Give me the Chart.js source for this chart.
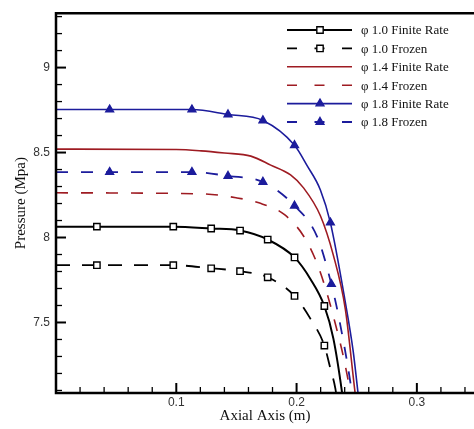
<!DOCTYPE html>
<html>
<head>
<meta charset="utf-8">
<script src="https://cdn.jsdelivr.net/npm/chart.js@4.4.0/dist/chart.umd.min.js"></script>
<style>
html, body { margin: 0; padding: 0; background: #fff; }
#wrap { width: 474px; height: 429px; }
</style>
</head>
<body>
<div id="wrap"><canvas id="chart" width="474" height="429"></canvas></div>
<script>
// axial position (m) and pressure (MPa)
const finite10X = [0, 0.034, 0.0975, 0.129, 0.153, 0.176, 0.1983, 0.2116, 0.2231, 0.2306, 0.238, 0.2395];
const finite10P = [8.064, 8.064, 8.064, 8.053, 8.041, 7.988, 7.883, 7.755, 7.597, 7.405, 7.078, 6.99];
const finite10Marks = [1, 2, 3, 4, 5, 6, 8];

const frozen10X = [0, 0.034, 0.0975, 0.129, 0.153, 0.176, 0.1983, 0.2116, 0.2231, 0.2281, 0.2322, 0.2345];
const frozen10P = [7.837, 7.837, 7.837, 7.819, 7.802, 7.766, 7.656, 7.521, 7.364, 7.229, 7.113, 7.0];
const frozen10Marks = [1, 2, 3, 4, 5, 6, 8];

const finite14X = [0, 0.1, 0.1207, 0.14, 0.162, 0.1785, 0.195, 0.2058, 0.2198, 0.2306, 0.2405, 0.2488, 0.2505];
const finite14P = [8.52, 8.518, 8.51, 8.497, 8.479, 8.426, 8.368, 8.292, 8.128, 7.895, 7.58, 7.078, 6.99];

const frozen14X = [0, 0.1207, 0.1496, 0.1686, 0.19, 0.2066, 0.2182, 0.2314, 0.243, 0.2446, 0.246];
const frozen14P = [8.263, 8.257, 8.234, 8.204, 8.134, 8.0, 7.825, 7.515, 7.154, 7.078, 7.0];

const finite18X = [0, 0.0446, 0.113, 0.143, 0.172, 0.1983, 0.209, 0.2198, 0.2281, 0.2405, 0.2471, 0.2512, 0.2525];
const finite18P = [8.753, 8.753, 8.753, 8.724, 8.689, 8.543, 8.42, 8.28, 8.088, 7.62, 7.329, 7.078, 7.0];
const finite18Marks = [1, 2, 3, 4, 5, 8];

const frozen18X = [0, 0.0446, 0.113, 0.143, 0.172, 0.1983, 0.2174, 0.2289, 0.2347, 0.2446, 0.247, 0.2485];
const frozen18P = [8.385, 8.385, 8.385, 8.362, 8.327, 8.187, 8.0, 7.726, 7.545, 7.154, 7.03, 6.97];
const frozen18Marks = [1, 2, 3, 4, 5, 7];

const seriesLabels = ['\u03c6 1.0 Finite Rate', '\u03c6 1.0 Frozen', '\u03c6 1.4 Finite Rate',
                      '\u03c6 1.4 Frozen', '\u03c6 1.8 Finite Rate', '\u03c6 1.8 Frozen'];

const xMajorTicks = [0.1, 0.2, 0.3];
const xTickLabels = ['0.1', '0.2', '0.3'];
const yMajorTicks = [7.5, 8, 8.5, 9];
const yTickLabels = ['7.5', '8', '8.5', '9'];

const BLACK = '#000000';
const RED = '#9e1b22';
const BLUE = '#1c1c9c';

// minor tick positions
const xTickValues = [];
for (let i = 1; i <= 17; i++) xTickValues.push(Math.round(i * 0.02 * 1000) / 1000);
const yTickValues = [];
for (let i = 71; i <= 93; i++) yTickValues.push(i / 10);

const isMajor = (v, list) => list.some(m => Math.abs(m - v) < 1e-6);
const labelFor = (v, list, labels) => {
    const i = list.findIndex(m => Math.abs(m - v) < 1e-6);
    return i < 0 ? '' : labels[i];
};

function makeSeries(label, xs, ps, marks, color, dash, style, width) {
    return {
        label: label,
        data: xs.map((x, i) => ({ x: x, y: ps[i] })),
        borderColor: color,
        borderWidth: width,
        borderDash: dash,
        legendDash: dash.length ? [10, 17.5] : [],
        cubicInterpolationMode: 'monotone',
        pointStyle: style,
        pointRadius: xs.map((_, i) => marks.includes(i) ? 4.5 : 0),
        pointBackgroundColor: style === 'triangle' ? color : '#ffffff',
        pointBorderColor: color,
        pointBorderWidth: 1.4,
        hasMarker: marks.length > 0,
        clip: 0
    };
}

const datasets = [
    makeSeries(seriesLabels[0], finite10X, finite10P, finite10Marks, BLACK, [], 'rect', 2),
    makeSeries(seriesLabels[1], frozen10X, frozen10P, frozen10Marks, BLACK, [14, 12], 'rect', 1.8),
    makeSeries(seriesLabels[2], finite14X, finite14P, [], RED, [], 'rect', 1.6),
    makeSeries(seriesLabels[3], frozen14X, frozen14P, [], RED, [12, 13], 'rect', 1.6),
    makeSeries(seriesLabels[4], finite18X, finite18P, finite18Marks, BLUE, [], 'triangle', 1.6),
    makeSeries(seriesLabels[5], frozen18X, frozen18P, frozen18Marks, BLUE, [12, 13], 'triangle', 1.8)
];

// inward ticks and the axis frame
const framePlugin = {
    id: 'frame',
    afterDatasetsDraw(chart) {
        const { ctx, chartArea: a, scales: { x, y } } = chart;
        ctx.save();
        ctx.strokeStyle = '#000';
        x.ticks.forEach(t => {
            const major = isMajor(t.value, xMajorTicks);
            const px = x.getPixelForValue(t.value);
            ctx.lineWidth = major ? 2 : 1.3;
            ctx.beginPath();
            ctx.moveTo(px, a.bottom);
            ctx.lineTo(px, a.bottom - (major ? 10 : 6));
            ctx.stroke();
        });
        y.ticks.forEach(t => {
            const major = isMajor(t.value, yMajorTicks);
            const py = y.getPixelForValue(t.value);
            ctx.lineWidth = major ? 2 : 1.3;
            ctx.beginPath();
            ctx.moveTo(a.left, py);
            ctx.lineTo(a.left + (major ? 10 : 6), py);
            ctx.stroke();
        });
        ctx.lineWidth = 2.5;
        ctx.beginPath();
        ctx.moveTo(a.right + 2, a.top);
        ctx.lineTo(a.left, a.top);
        ctx.lineTo(a.left, a.bottom);
        ctx.lineTo(a.right + 2, a.bottom);
        ctx.stroke();
        ctx.restore();
    }
};

const legendPlugin = {
    id: 'lineLegend',
    afterDraw(chart) {
        const ctx = chart.ctx;
        chart.data.datasets.forEach((ds, i) => {
            const y = 30 + i * 18.4;
            ctx.save();
            ctx.strokeStyle = ds.borderColor;
            ctx.lineWidth = ds.borderWidth;
            ctx.setLineDash(ds.legendDash);
            ctx.beginPath();
            ctx.moveTo(287, y);
            ctx.lineTo(352, y);
            ctx.stroke();
            ctx.setLineDash([]);
            if (ds.hasMarker) {
                ctx.fillStyle = ds.pointBackgroundColor;
                ctx.strokeStyle = ds.pointBorderColor;
                ctx.lineWidth = ds.pointBorderWidth;
                Chart.helpers.drawPoint(ctx, { pointStyle: ds.pointStyle, radius: 4.5, rotation: 0, borderWidth: ds.pointBorderWidth }, 320, y);
            }
            ctx.fillStyle = '#111';
            ctx.font = '13px "Liberation Serif"';
            ctx.textBaseline = 'middle';
            ctx.textAlign = 'left';
            ctx.fillText(ds.label, 361, y + 1);
            ctx.restore();
        });
    }
};

new Chart(document.getElementById('chart'), {
    type: 'line',
    data: { datasets: datasets },
    options: {
        responsive: false,
        animation: false,
        layout: { padding: { top: 10, right: 0, left: 0, bottom: 0 } },
        plugins: { legend: { display: false }, tooltip: { enabled: false } },
        scales: {
            x: {
                type: 'linear',
                min: 0,
                max: 0.3475,
                afterBuildTicks: s => { s.ticks = xTickValues.map(v => ({ value: v })); },
                afterFit: s => { s.height = 36; },
                grid: { display: false, drawTicks: false },
                border: { display: false },
                ticks: {
                    autoSkip: false,
                    maxRotation: 0,
                    padding: 2,
                    color: '#333',
                    font: { family: '"Liberation Sans"', size: 12 },
                    callback: v => labelFor(v, xMajorTicks, xTickLabels)
                },
                title: {
                    display: true,
                    text: 'Axial Axis (m)',
                    color: '#111',
                    font: { family: '"Liberation Serif"', size: 15 },
                    padding: { top: 0, bottom: 4 }
                }
            },
            y: {
                type: 'linear',
                min: 7.085,
                max: 9.32,
                afterBuildTicks: s => { s.ticks = yTickValues.map(v => ({ value: v })); },
                afterFit: s => { s.width = 56; },
                grid: { display: false, drawTicks: false },
                border: { display: false },
                ticks: {
                    autoSkip: false,
                    padding: 6,
                    color: '#333',
                    font: { family: '"Liberation Sans"', size: 12 },
                    callback: v => labelFor(v, yMajorTicks, yTickLabels)
                },
                title: {
                    display: true,
                    text: 'Pressure (Mpa)',
                    color: '#111',
                    font: { family: '"Liberation Serif"', size: 15 },
                    padding: { top: 12, bottom: 0 }
                }
            }
        }
    },
    plugins: [framePlugin, legendPlugin]
});
</script>
</body>
</html>
